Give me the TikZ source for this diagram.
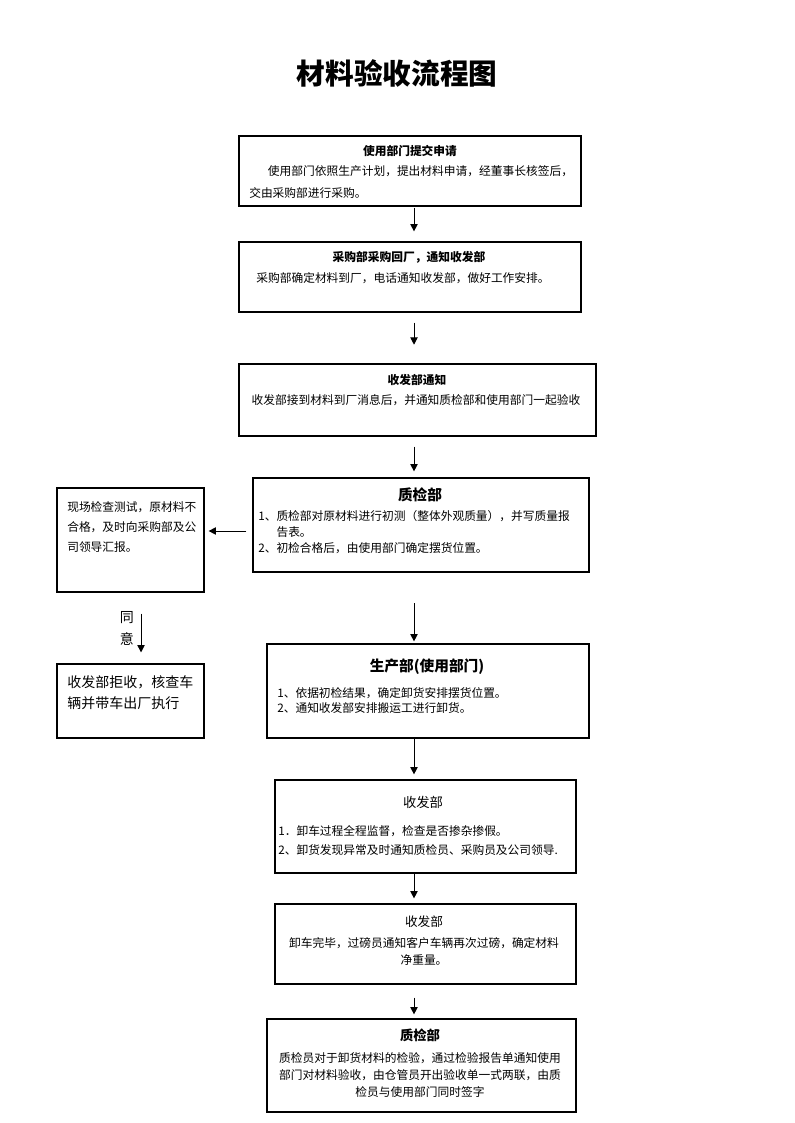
\documentclass[tikz,border=0pt]{standalone}
\usepackage{fontspec}
\setmainfont{Noto Sans CJK SC}
\usetikzlibrary{fit,arrows.meta}
\newcommand{\sz}[2]{\fontsize{#1}{#2}\selectfont}

\begin{document}
\begin{tikzpicture}[x=0.75pt,y=-0.75pt]
  \tikzset{box/.style={draw,line width=0.9pt,inner sep=0pt},
           head/.style={inner sep=0pt,font=\bfseries\sz{8.8pt}{10pt}},
           body/.style={inner sep=0pt,align=left,font=\sz{8.8pt}{16.5pt}},
           flow/.style={line width=0.75pt,-{Triangle[length=5.5pt,width=5.5pt]}}}
  \useasboundingbox (0,0) rectangle (794,1123);
  \node[font=\bfseries\sz{21.5pt}{24pt}] (title) at (397,73) {材料验收流程图};
  \coordinate (spine) at (414,0);
  % main column
  \node[box,fit={(239,136) (581,206)}] (apply) {};
  \node[box,fit={(239,242) (581,312)}] (buy) {};
  \node[box,fit={(239,364) (596,436)}] (notify) {};
  \node[box,fit={(253,478) (589,572)}] (qc) {};
  \node[box,fit={(267,644) (589,738)}] (prod) {};
  \node[box,fit={(275,780) (576,873)}] (unload) {};
  \node[box,fit={(275,904) (576,984)}] (weigh) {};
  \node[box,fit={(267,1019) (576,1112)}] (accept) {};
  % side column
  \node[box,fit={(57,488) (204,592)}] (report) {};
  \node[box,fit={(57,664) (204,738)}] (reject) {};
  % texts
  \node[head] (applyh) at (410,151) {使用部门提交申请};
  \node[body,anchor=west] (applyt) at (249,182) {\hspace*{14pt}使用部门依照生产计划，提出材料申请，经董事长核签后，\\交由采购部进行采购。};
  \node[head] (buyh) at (409,257) {采购部采购回厂，通知收发部};
  \node[body] (buyt) at (403,278) {采购部确定材料到厂，电话通知收发部，做好工作安排。};
  \node[head] (notifyh) at (417,380) {收发部通知};
  \node[body] (notifyt) at (416,400) {收发部接到材料到厂消息后，并通知质检部和使用部门一起验收};
  \node[head,font=\bfseries\sz{11pt}{12pt}] (qch) at (420,495) {质检部};
  \node[body,anchor=west,font=\sz{8.8pt}{12pt}] (qct) at (258,532) {1、质检部对原材料进行初测（整体外观质量），并写质量报\\\phantom{1、}告表。\\2、初检合格后，由使用部门确定摆货位置。};
  \node[head,font=\bfseries\sz{11pt}{12pt}] (prodh) at (427,667) {生产部(使用部门)};
  \node[body,anchor=west,font=\sz{8.8pt}{11.25pt}] (prodt) at (277,700.5) {1、依据初检结果，确定卸货安排摆货位置。\\2、通知收发部安排搬运工进行卸货。};
  \node[head,font=\sz{10pt}{12pt}] (unloadh) at (423,802) {收发部};
  \node[body,anchor=west,font=\sz{8.8pt}{14.25pt}] (unloadt) at (278,840.5) {1．卸车过程全程监督，检查是否掺杂掺假。\\2、卸货发现异常及时通知质检员、采购员及公司领导.};
  \node[head,font=\sz{9.5pt}{12pt}] (weighh) at (424,922) {收发部};
  \node[body,align=center,font=\sz{8.8pt}{12.75pt}] (weight) at (424,951.5) {卸车完毕，过磅员通知客户车辆再次过磅，确定材料\\净重量。};
  \node[head,font=\bfseries\sz{10pt}{12pt}] (accepth) at (420,1035) {质检部};
  \node[body,align=center,font=\sz{8.8pt}{12.75pt}] (acceptt) at (420,1075) {质检员对于卸货材料的检验，通过检验报告单通知使用\\部门对材料验收，由仓管员开出验收单一式两联，由质\\检员与使用部门同时签字};
  \node[body,anchor=west,font=\sz{8.8pt}{15pt}] (reportt) at (67,527) {现场检查测试，原材料不\\合格，及时向采购部及公\\司领导汇报。};
  \node[body,anchor=west,font=\sz{10.5pt}{15.75pt}] (rejectt) at (67,692.5) {收发部拒收，核查车\\辆并带车出厂执行};
  % connectors
  \draw[flow,shorten <=0.75pt,shorten >=7.5pt] (apply.south -| spine) -- (buy.north -| spine);
  \draw[flow,shorten <=7.5pt,shorten >=14pt] (buy.south -| spine) -- (notify.north -| spine);
  \draw[flow,shorten <=7.5pt,shorten >=4.5pt] (notify.south -| spine) -- (qc.north -| spine);
  \draw[flow,shorten <=23pt,shorten >=1.5pt] (qc.south -| spine) -- (prod.north -| spine);
  \draw[flow,shorten >=3.75pt] (prod.south -| spine) -- (unload.north -| spine);
  \draw[flow,shorten >=3.75pt] (unload.south -| spine) -- (weigh.north -| spine);
  \draw[flow,shorten <=9.75pt,shorten >=3pt] (weigh.south -| spine) -- (accept.north -| spine);
  \draw[flow,shorten <=4.5pt,shorten >=3pt] ([yshift=-4.5pt]qc.west) -- ([yshift=-4.5pt]qc.west -| report.east);
  \draw[flow,shorten <=15.75pt,shorten >=8.25pt] ([xshift=7.9pt]report.south) -- ([xshift=7.9pt]reject.north)
    node[midway,anchor=east,xshift=-5pt,inner sep=0pt,align=center,font=\sz{10.5pt}{16.5pt}] (agree) {同\\意};
\end{tikzpicture}
\end{document}
